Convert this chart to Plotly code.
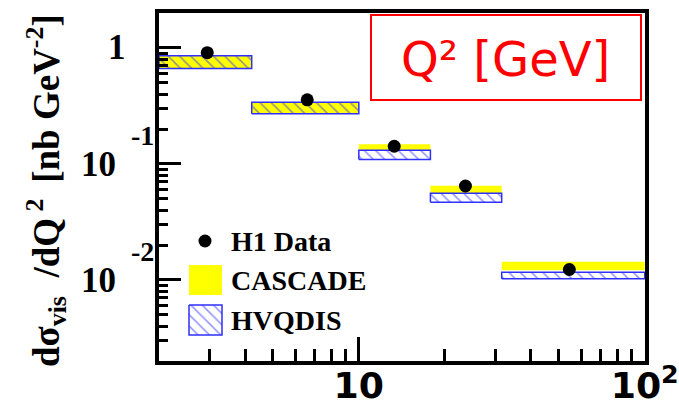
import numpy as np
import plotly.graph_objects as go

# Q^2 bin edges [GeV^2] and measured points
q2_edges = [2.0, 4.22, 10.0, 17.8, 31.6, 100.0]
q2_points = [2.95, 6.6, 13.3, 23.6, 54.5]
h1_xsec = [0.91, 0.357, 0.142, 0.0645, 0.0123]

# model predictions per bin (lower / upper edge of band)
cascade_lo = [0.666, 0.271, 0.131, 0.0559, 0.01213]
cascade_hi = [0.856, 0.340, 0.148, 0.0649, 0.01432]
hvqdis_lo = [0.666, 0.271, 0.109, 0.0468, 0.01024]
hvqdis_hi = [0.856, 0.340, 0.131, 0.0559, 0.01166]

W, H = 679, 405
L, R, T, B = 159, 645, 13, 361  # plot area in pixels

YELLOW = "#ffff00"
BLUE = "#2f2fff"
SERIF = "Liberation Serif"
ROUND = "DejaVu Sans"


def px_x(p):
    return (p - L) / (R - L)


def px_y(p):
    return 1 - (p - T) / (B - T)


def hatch():
    return dict(shape="\\", fgcolor=BLUE, bgcolor="rgba(0,0,0,0)",
                size=8, solidity=0.2, fillmode="overlay")


fig = go.Figure()

# CASCADE bands
for i in range(len(cascade_lo)):
    x0, x1 = q2_edges[i], q2_edges[i + 1]
    fig.add_trace(go.Scatter(
        x=[x0, x1, x1, x0, x0],
        y=[cascade_lo[i], cascade_lo[i], cascade_hi[i], cascade_hi[i], cascade_lo[i]],
        mode="lines", fill="toself", fillcolor=YELLOW,
        line=dict(color=YELLOW, width=0), hoverinfo="skip", showlegend=False))

# HVQDIS hatched bands
for i in range(len(hvqdis_lo)):
    x0, x1 = q2_edges[i], q2_edges[i + 1]
    fig.add_trace(go.Scatter(
        x=[x0, x1, x1, x0, x0],
        y=[hvqdis_lo[i], hvqdis_lo[i], hvqdis_hi[i], hvqdis_hi[i], hvqdis_lo[i]],
        mode="lines", fill="toself", fillcolor="rgba(0,0,0,0)",
        fillpattern=hatch(),
        line=dict(color=BLUE, width=1.5), hoverinfo="skip", showlegend=False))

# H1 data points
fig.add_trace(go.Scatter(
    x=q2_points, y=h1_xsec, mode="markers",
    marker=dict(color="black", size=13, symbol="circle"),
    showlegend=False))

# hand-drawn legend on a pixel-based overlay axis pair
fig.add_trace(go.Scatter(
    x=[205], y=[241], mode="markers", xaxis="x2", yaxis="y2",
    marker=dict(color="black", size=13), showlegend=False, hoverinfo="skip"))
fig.add_trace(go.Scatter(
    x=[189, 222, 222, 189, 189], y=[265, 265, 295, 295, 265],
    mode="lines", fill="toself", fillcolor=YELLOW, xaxis="x2", yaxis="y2",
    line=dict(color=YELLOW, width=0), showlegend=False, hoverinfo="skip"))
fig.add_trace(go.Scatter(
    x=[189, 222, 222, 189, 189], y=[305, 305, 335, 335, 305],
    mode="lines", fill="toself", fillcolor="rgba(0,0,0,0)", fillpattern=hatch(),
    xaxis="x2", yaxis="y2",
    line=dict(color=BLUE, width=1.5), showlegend=False, hoverinfo="skip"))

legend_labels = [("H1 Data", 241), ("CASCADE", 280), ("HVQDIS", 320)]
annotations = []
for txt, yy in legend_labels:
    annotations.append(dict(
        x=px_x(229), y=px_y(yy), xref="paper", yref="paper",
        text=f"<b>{txt}</b>", showarrow=False, xanchor="left", yanchor="middle",
        font=dict(family=SERIF, size=28, color="black")))

# y tick labels in ROOT style: mantissa and raised exponent
annotations.append(dict(x=px_x(128), y=0, xref="paper", yref="y", text="<b>1</b>",
                        showarrow=False, xanchor="right", yanchor="middle",
                        font=dict(family=SERIF, size=35, color="black")))
for val, exp in [(0.1, "-1"), (0.01, "-2")]:
    annotations.append(dict(x=px_x(118), y=np.log10(val), xref="paper", yref="y",
                            text="<b>10</b>", showarrow=False, xanchor="right",
                            yanchor="middle", yshift=-1,
                            font=dict(family=SERIF, size=35, color="black")))
    annotations.append(dict(x=px_x(129), y=np.log10(val), xref="paper", yref="y",
                            text=f"<b>{exp}</b>", showarrow=False, xanchor="left",
                            yanchor="middle", yshift=28,
                            font=dict(family=SERIF, size=28, color="black")))

# y axis title
annotations.append(dict(
    x=px_x(46), y=px_y(191), xref="paper", yref="paper", textangle=-90,
    text="<b>dσ<sub>vis</sub>  /dQ<sup> 2 </sup> [nb GeV<sup>-2</sup>]</b>",
    showarrow=False, xanchor="center", yanchor="middle",
    font=dict(family=SERIF, size=37, color="black")))

# variable label in the box
annotations.append(dict(
    x=px_x(505), y=px_y(59), xref="paper", yref="paper",
    text="Q² [GeV]", showarrow=False, xanchor="center", yanchor="middle",
    font=dict(family=ROUND, size=48, color="#ff0000")))

shapes = [dict(type="rect", xref="paper", yref="paper",
               x0=px_x(371), x1=px_x(641), y0=px_y(15), y1=px_y(100),
               line=dict(color="#ff0000", width=2), fillcolor="rgba(0,0,0,0)")]

fig.update_layout(
    width=W, height=H,
    margin=dict(l=L, r=W - R, t=T, b=H - B, pad=0, autoexpand=False),
    paper_bgcolor="white", plot_bgcolor="white",
    showlegend=False,
    annotations=annotations,
    shapes=shapes,
    xaxis=dict(
        type="log", range=[np.log10(2), 2.001], dtick=1, tick0=0,
        exponentformat="power", showexponent="all",
        ticks="inside", ticklen=24, tickwidth=3, tickcolor="black",
        minor=dict(ticks="inside", ticklen=12, tickwidth=3, tickcolor="black",
                   dtick="D1", showgrid=False),
        showline=True, linewidth=4, linecolor="black", mirror=True,
        showgrid=False, zeroline=False,
        tickfont=dict(family=ROUND, size=29, color="black", weight="bold"),
        ticklabelstandoff=-9,
    ),
    yaxis=dict(
        type="log", range=[np.log10(0.002), np.log10(2)], dtick=1,
        ticks="inside", ticklen=22, tickwidth=3, tickcolor="black",
        minor=dict(ticks="inside", ticklen=9, tickwidth=3, tickcolor="black",
                   dtick="D1", showgrid=False),
        showline=True, linewidth=4, linecolor="black", mirror=True,
        showgrid=False, zeroline=False, showticklabels=False,
    ),
    xaxis2=dict(overlaying="x", anchor="y2", range=[L, R], visible=False),
    yaxis2=dict(overlaying="y", anchor="x2", range=[B, T], visible=False),
)

fig.write_html("out.html")
